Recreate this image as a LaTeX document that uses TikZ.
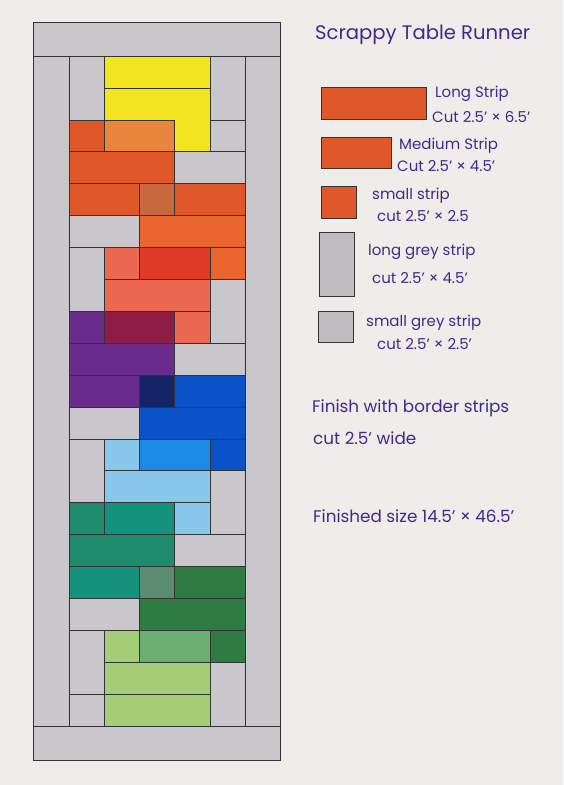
\documentclass[tikz,border=0pt]{standalone}
\usepackage{fontspec}
\setmainfont{Poppins}
\definecolor{paper}{HTML}{EFEDE9}
\definecolor{inkpurple}{HTML}{3B2C8C}
\definecolor{qgrey}{HTML}{C9C7CB}
\definecolor{lgrey}{HTML}{BEBCC0}
\definecolor{qyellow}{HTML}{F2E41E}
\definecolor{qorange}{HTML}{E0582A}
\definecolor{qamber}{HTML}{E8853A}
\definecolor{qrust}{HTML}{C8683E}
\definecolor{qtangerine}{HTML}{E9662F}
\definecolor{qsalmon}{HTML}{EC6850}
\definecolor{qred}{HTML}{E03A28}
\definecolor{qpurple}{HTML}{6A2C8C}
\definecolor{qmaroon}{HTML}{8E1C44}
\definecolor{qnavy}{HTML}{142466}
\definecolor{qblue}{HTML}{0A52C8}
\definecolor{qazure}{HTML}{1A8AE6}
\definecolor{qsky}{HTML}{88C8EA}
\definecolor{qjade}{HTML}{1E8C6C}
\definecolor{qteal}{HTML}{14927C}
\definecolor{qsage}{HTML}{5C8C70}
\definecolor{qforest}{HTML}{2E7C44}
\definecolor{qmoss}{HTML}{6CAE72}
\definecolor{qlime}{HTML}{A4CD78}
\begin{document}
\begin{tikzpicture}[
	x=1pt, y=-1pt,
	piece/.style={draw=black!80, line width=0.6pt},
	ink/.style={text=inkpurple, anchor=west, inner sep=0pt, font=\fontsize{15}{16}\selectfont},
	bigink/.style={ink, font=\fontsize{16.8}{18}\selectfont},
]
\useasboundingbox[fill=paper] (0,0) rectangle (563,785);

% border strips
\draw[piece, fill=qgrey] (33,22) rectangle (280,760);
\draw[piece] (33,56) -- (280,56);
\draw[piece] (33,726) -- (280,726);
\draw[piece] (69,56) -- (69,726);
\draw[piece] (245,56) -- (245,726);

% centre: column/row/width/height/colour
\begin{scope}[shift={(69,56)}, x=35.2pt, y=-31.9pt]
\foreach \c/\r/\w/\h/\col in {
	0/0/1/2/qgrey, 1/0/3/1/qyellow, 4/0/1/2/qgrey, 1/1/3/1/qyellow,
	0/2/1/1/qorange, 1/2/2/1/qamber, 3/2/1/1/qyellow, 4/2/1/1/qgrey,
	0/3/3/1/qorange, 3/3/2/1/qgrey,
	0/4/2/1/qorange, 2/4/1/1/qrust, 3/4/2/1/qorange,
	0/5/2/1/qgrey, 2/5/3/1/qtangerine,
	0/6/1/2/qgrey, 1/6/1/1/qsalmon, 2/6/2/1/qred, 4/6/1/1/qtangerine,
	1/7/3/1/qsalmon, 4/7/1/2/qgrey,
	0/8/1/1/qpurple, 1/8/2/1/qmaroon, 3/8/1/1/qsalmon,
	0/9/3/1/qpurple, 3/9/2/1/qgrey,
	0/10/2/1/qpurple, 2/10/1/1/qnavy, 3/10/2/1/qblue,
	0/11/2/1/qgrey, 2/11/3/1/qblue,
	0/12/1/2/qgrey, 1/12/1/1/qsky, 2/12/2/1/qazure, 4/12/1/1/qblue,
	1/13/3/1/qsky, 4/13/1/2/qgrey,
	0/14/1/1/qjade, 1/14/2/1/qteal, 3/14/1/1/qsky,
	0/15/3/1/qjade, 3/15/2/1/qgrey,
	0/16/2/1/qteal, 2/16/1/1/qsage, 3/16/2/1/qforest,
	0/17/2/1/qgrey, 2/17/3/1/qforest,
	0/18/1/2/qgrey, 1/18/1/1/qlime, 2/18/2/1/qmoss, 4/18/1/1/qforest,
	1/19/3/1/qlime, 4/19/1/2/qgrey,
	0/20/1/1/qgrey, 1/20/3/1/qlime}
	\draw[piece, fill=\col] (\c,\r) rectangle ++(\w,\h);
% yellow square runs on from the strip above, no seam
\fill[qyellow] (3,1.9) rectangle (4,2.1);
\draw[piece] (3,2) -- (3,2.1);
\draw[piece] (4,1.9) -- (4,2.1);
\end{scope}

% legend
\node[ink, font=\fontsize{19.6}{21}\selectfont] (title) at (315,35) {Scrappy Table Runner};
\draw[piece, fill=qorange] (321,87) rectangle (426,119);
\node[ink] (long) at (435,94) {Long Strip};
\node[ink] (longcut) at (432,117) {Cut 2.5' × 6.5'};
\draw[piece, fill=qorange] (321,137) rectangle (391,168);
\node[ink] (medium) at (399,146) {Medium Strip};
\node[ink] (mediumcut) at (397,166) {Cut 2.5' × 4.5'};
\draw[piece, fill=qorange] (321,186) rectangle (356,218);
\node[ink] (small) at (372,196) {small strip};
\node[ink] (smallcut) at (377,216) {cut 2.5' × 2.5};
\draw[piece, fill=lgrey] (319,232) rectangle (354,296);
\node[ink] (greylong) at (368,252) {long grey strip};
\node[ink] (greylongcut) at (372,278) {cut 2.5' × 4.5'};
\draw[piece, fill=lgrey] (318,311) rectangle (353,342);
\node[ink] (greysmall) at (366,323) {small grey strip};
\node[ink] (greysmallcut) at (377,344) {cut 2.5' × 2.5'};

\node[bigink] (border) at (312,408) {Finish with border strips};
\node[bigink] (bordercut) at (313,438) {cut 2.5' wide};
\node[bigink] (size) at (313,516) {Finished size 14.5' × 46.5'};
\end{tikzpicture}
\end{document}
